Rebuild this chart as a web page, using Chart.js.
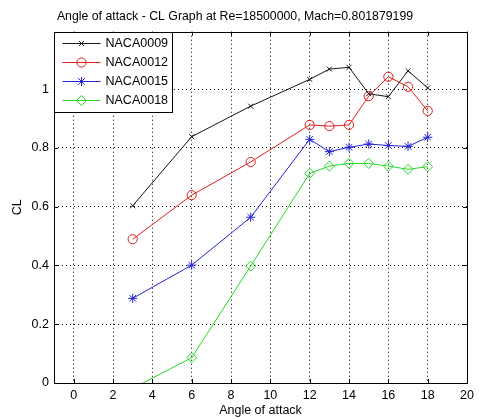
<!DOCTYPE html>
<html>
<head>
<meta charset="utf-8">
<script src="https://cdn.jsdelivr.net/npm/chart.js"></script>
<style>
  html, body { margin: 0; padding: 0; background: #fff; }
  #cl { display: block; }
</style>
</head>
<body>
<canvas id="cl" width="479" height="419"></canvas>
<script>
'use strict';

// 받음각 (deg)
const alpha = [3, 6, 9, 12, 13, 14, 15, 16, 17, 18];

// 익형별 CL 값
const naca0009 = [0.603, 0.838, 0.942, 1.033, 1.068, 1.074, 0.984, 0.974, 1.062, 1.004];
const naca0012 = [0.489, 0.639, 0.752, 0.878, 0.874, 0.878, 0.976, 1.042, 1.008, 0.926];
const naca0015 = [0.288, 0.401, 0.564, 0.829, 0.787, 0.802, 0.813, 0.808, 0.805, 0.836];
const naca0018 = [-0.018, 0.086, 0.398, 0.713, 0.738, 0.747, 0.747, 0.738, 0.727, 0.736];

const seriesNames = ['NACA0009', 'NACA0012', 'NACA0015', 'NACA0018'];

// 축 눈금
const xTicks = [0, 2, 4, 6, 8, 10, 12, 14, 16, 18, 20];
const yTicks = [0, 0.2, 0.4, 0.6, 0.8, 1];

const FONT = 'Arial, "Liberation Sans", Helvetica, sans-serif';

function toPts(ys) {
    return alpha.map((a, i) => ({ x: a, y: ys[i] }));
}

const styles = [
    { color: 'rgb(20,20,20)', marker: 'crossRot', r: 3.5 },
    { color: 'rgb(225,30,30)', marker: 'circle', r: 4.6 },
    { color: 'rgb(35,35,215)', marker: 'star', r: 4.6 },
    { color: 'rgb(40,215,40)', marker: 'rectRot', r: 5 }
];

const allData = [naca0009, naca0012, naca0015, naca0018];

const datasets = allData.map((ys, i) => ({
    label: seriesNames[i],
    data: toPts(ys),
    borderColor: styles[i].color,
    backgroundColor: 'rgba(0,0,0,0)',
    borderWidth: 1,
    pointStyle: styles[i].marker,
    pointRadius: styles[i].r,
    pointBorderColor: styles[i].color,
    pointBorderWidth: 1,
    pointBackgroundColor: 'rgba(0,0,0,0)',
    tension: 0
}));

// 프레임, 안쪽 눈금, 범례 박스
const matlabFrame = {
    id: 'matlabFrame',
    afterDatasetsDraw(chart) {
        const { ctx, chartArea: a, scales } = chart;
        ctx.save();
        ctx.strokeStyle = '#000';
        ctx.lineWidth = 1;
        ctx.strokeRect(Math.round(a.left) + 0.5, Math.round(a.top) + 0.5,
            Math.round(a.right - a.left), Math.round(a.bottom - a.top));

        ctx.beginPath();
        xTicks.forEach(v => {
            const px = Math.round(scales.x.getPixelForValue(v)) + 0.5;
            ctx.moveTo(px, a.bottom); ctx.lineTo(px, a.bottom - 4);
            ctx.moveTo(px, a.top); ctx.lineTo(px, a.top + 4);
        });
        yTicks.forEach(v => {
            const py = Math.round(scales.y.getPixelForValue(v)) + 0.5;
            ctx.moveTo(a.left, py); ctx.lineTo(a.left + 4, py);
            ctx.moveTo(a.right, py); ctx.lineTo(a.right - 4, py);
        });
        ctx.stroke();

        // 범례
        const bx = Math.round(a.left) + 0.5, by = Math.round(a.top) + 0.5;
        const bw = 118, bh = 80;
        ctx.fillStyle = '#fff';
        ctx.fillRect(bx, by, bw, bh);
        ctx.strokeRect(bx, by, bw, bh);
        ctx.font = '12.5px ' + FONT;
        ctx.textBaseline = 'middle';
        ctx.textAlign = 'left';
        seriesNames.forEach((name, i) => {
            const y = by + 11 + i * 19;
            ctx.strokeStyle = styles[i].color;
            ctx.beginPath();
            ctx.moveTo(bx + 8, y); ctx.lineTo(bx + 46, y);
            ctx.stroke();
            ctx.fillStyle = 'rgba(0,0,0,0)';
            Chart.helpers.drawPoint(ctx, {
                pointStyle: styles[i].marker,
                radius: styles[i].r,
                rotation: 0,
                borderWidth: 1
            }, bx + 27, y);
            ctx.fillStyle = '#000';
            ctx.fillText(name, bx + 51, y + 0.5);
        });
        ctx.restore();
    }
};

const config = {
    type: 'line',
    data: { datasets },
    options: {
        responsive: false,
        animation: false,
        layout: { padding: { left: 0, right: 9, top: 0, bottom: 0 } },
        plugins: {
            legend: { display: false },
            tooltip: { enabled: false },
            title: {
                display: true,
                text: 'Angle of attack - CL Graph at Re=18500000, Mach=0.801879199',
                color: '#000',
                font: { family: FONT, size: 12.3, weight: 'normal' },
                padding: { top: 9, bottom: 8 }
            }
        },
        scales: {
            x: {
                type: 'linear',
                min: -1,
                max: 20,
                afterBuildTicks: s => { s.ticks = xTicks.map(v => ({ value: v })); },
                afterFit: s => { s.height = 36; },
                grid: { color: '#000', lineWidth: 1, drawTicks: false },
                border: { display: false, dash: [1, 3] },
                ticks: {
                    color: '#000',
                    padding: 5,
                    maxRotation: 0,
                    font: { family: FONT, size: 12.5 },
                    callback: v => String(v)
                },
                title: {
                    display: true,
                    text: 'Angle of attack',
                    color: '#000',
                    font: { family: FONT, size: 12.5 },
                    padding: { top: 0, bottom: 1 }
                }
            },
            y: {
                type: 'linear',
                min: 0,
                max: 1.195,
                afterBuildTicks: s => { s.ticks = yTicks.map(v => ({ value: v })); },
                afterFit: s => { s.width = 54; },
                grid: { color: '#000', lineWidth: 1, drawTicks: false },
                border: { display: false, dash: [1, 3] },
                ticks: {
                    color: '#000',
                    padding: 5,
                    font: { family: FONT, size: 12.5 },
                    callback: v => String(Math.round(v * 10) / 10)
                },
                title: {
                    display: true,
                    text: 'CL',
                    color: '#000',
                    font: { family: FONT, size: 12.5 },
                    padding: { top: 10.5, bottom: 0 }
                }
            }
        }
    },
    plugins: [matlabFrame]
};

const clChart = new Chart(document.getElementById('cl'), config);
</script>
</body>
</html>
